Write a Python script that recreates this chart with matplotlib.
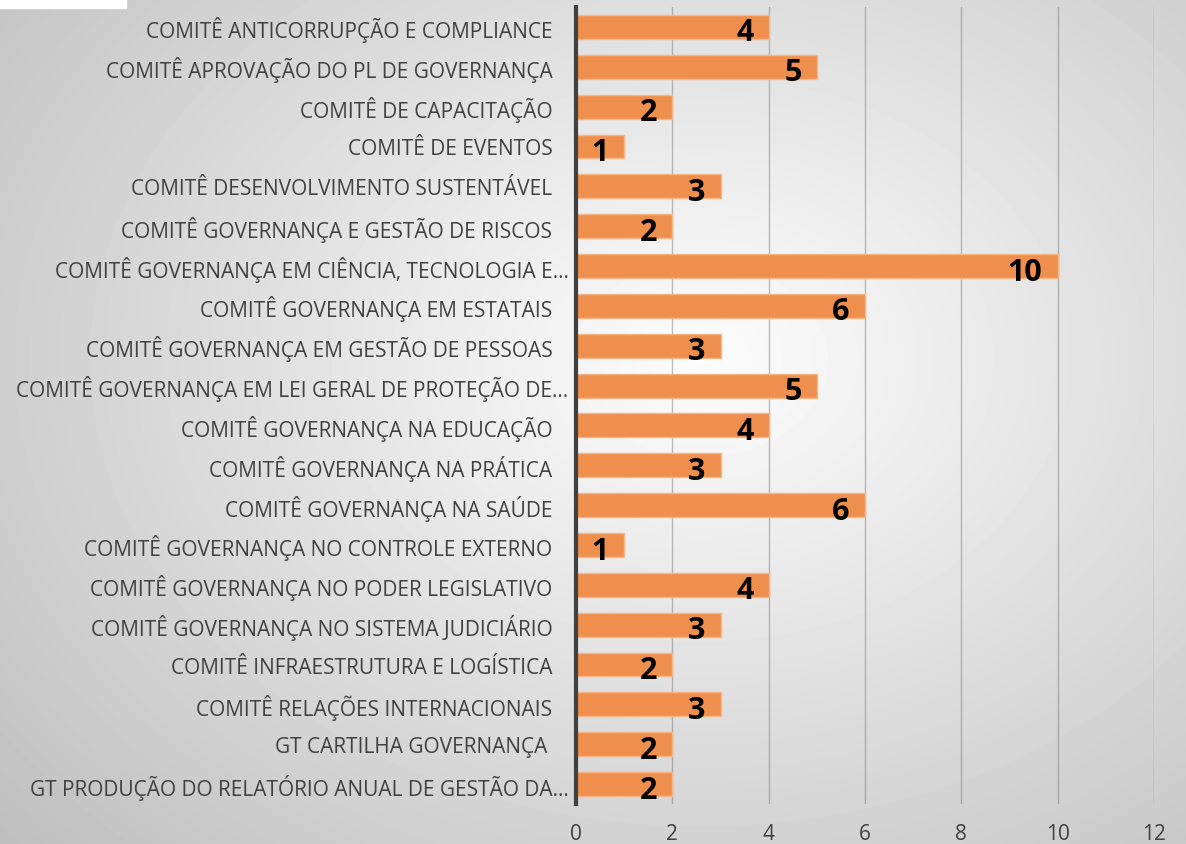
import matplotlib.pyplot as plt
import matplotlib.transforms as mtransforms
import numpy as np

categories = [
    "COMITÊ ANTICORRUPÇÃO E COMPLIANCE",
    "COMITÊ APROVAÇÃO DO PL DE GOVERNANÇA",
    "COMITÊ DE CAPACITAÇÃO",
    "COMITÊ DE EVENTOS",
    "COMITÊ DESENVOLVIMENTO SUSTENTÁVEL",
    "COMITÊ GOVERNANÇA E GESTÃO DE RISCOS",
    "COMITÊ GOVERNANÇA EM CIÊNCIA, TECNOLOGIA E…",
    "COMITÊ GOVERNANÇA EM ESTATAIS",
    "COMITÊ GOVERNANÇA EM GESTÃO DE PESSOAS",
    "COMITÊ GOVERNANÇA EM LEI GERAL DE PROTEÇÃO DE…",
    "COMITÊ GOVERNANÇA NA EDUCAÇÃO",
    "COMITÊ GOVERNANÇA NA PRÁTICA",
    "COMITÊ GOVERNANÇA NA SAÚDE",
    "COMITÊ GOVERNANÇA NO CONTROLE EXTERNO",
    "COMITÊ GOVERNANÇA NO PODER LEGISLATIVO",
    "COMITÊ GOVERNANÇA NO SISTEMA JUDICIÁRIO",
    "COMITÊ INFRAESTRUTURA E LOGÍSTICA",
    "COMITÊ RELAÇÕES INTERNACIONAIS",
    "GT CARTILHA GOVERNANÇA ",
    "GT PRODUÇÃO DO RELATÓRIO ANUAL DE GESTÃO DA…",
]
values = [4, 5, 2, 1, 3, 2, 10, 6, 3, 5, 4, 3, 6, 1, 4, 3, 2, 3, 2, 2]
x_ticks = [0, 2, 4, 6, 8, 10, 12]

plt.rcParams['font.family'] = ['Open Sans', 'DejaVu Sans']

fig = plt.figure(figsize=(11.86, 8.45), dpi=100)

# radial gradient background, light in the middle, grey at the edges
bg = fig.add_axes([0, 0, 1, 1], zorder=0)
yy, xx = np.mgrid[0:845, 0:1186]
r = np.sqrt(((xx - 700) / 850.0) ** 2 + ((yy - 360) / 650.0) ** 2)
shade = np.clip(0.99 - 0.22 * r, 0, 1)
bg.imshow(shade, cmap='gray', vmin=0, vmax=1, aspect='auto', extent=[0, 1186, 845, 0])
bg.add_patch(plt.Rectangle((0, 0), 126, 9, color='white'))
bg.set_xlim(0, 1186)
bg.set_ylim(845, 0)
bg.axis('off')

ax = fig.add_axes([576 / 1186, 40 / 845, (1154 - 576) / 1186, (837 - 40) / 845], zorder=1)
ax.patch.set_alpha(0)

y = np.arange(len(categories))
ax.barh(y, values, height=0.6, color='#EF8F4E', edgecolor='#F6B585', linewidth=1, zorder=3)

for yi, v in zip(y, values):
    ax.annotate(str(v), (v, yi), xytext=(-11, -4), textcoords='offset points',
                ha='right', va='center', fontsize=22, fontweight='bold', color='black', zorder=4)

ax.set_xlim(0, 12)
ax.set_ylim(len(categories) - 0.5, -0.5)
ax.set_xticks(x_ticks)
ax.set_xticklabels([str(t) for t in x_ticks])
ax.set_yticks(y)
ax.set_yticklabels(categories)
ax.tick_params(axis='y', length=0, pad=17, labelsize=15, labelcolor='#404040')
ax.tick_params(axis='x', length=0, pad=14, labelsize=15, labelcolor='#404040')

# truncated labels sit a little closer to the axis
shift = mtransforms.ScaledTranslation(16 / 100, 0, fig.dpi_scale_trans)
for lab in ax.get_yticklabels():
    if lab.get_text().endswith("…"):
        lab.set_transform(lab.get_transform() + shift)

ax.grid(axis='x', color='#707070', alpha=0.45, linewidth=1, zorder=1)
for s in ['top', 'right', 'bottom']:
    ax.spines[s].set_visible(False)
ax.spines['left'].set_color('#404040')
ax.spines['left'].set_linewidth(3)
ax.spines['left'].set_zorder(5)

fig.savefig('out.png', dpi=100)
